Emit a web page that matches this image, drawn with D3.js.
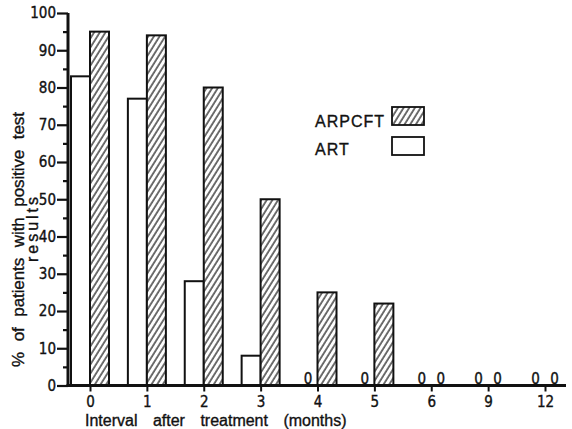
<!DOCTYPE html>
<html>
<head>
<meta charset="utf-8">
<script src="https://cdn.jsdelivr.net/npm/d3@7"></script>
<style>
  html, body { margin: 0; padding: 0; background: #fff; }
  svg { display: block; }
  text { fill: #111; stroke: #111; stroke-width: 0.35px; }
</style>
</head>
<body>
<svg id="chart" width="572" height="429"></svg>
<script>
// Months after treatment and the share of patients with a positive test result
const categories = ["0", "1", "2", "3", "4", "5", "6", "9", "12"];
const artValues = [83, 77, 28, 8, 0, 0, 0, 0, 0];
const arpcftValues = [95, 94, 80, 50, 25, 22, 0, 0, 0];
const yTicks = [0, 10, 20, 30, 40, 50, 60, 70, 80, 90, 100];
const yMinorTicks = [5, 15, 25, 35, 45, 55, 65, 75, 85, 95];
const seriesNames = ["ARPCFT", "ART"];

const svg = d3.select("#chart");
const ink = "#111";
const tickFont = "'Liberation Sans Narrow', 'DejaVu Sans Condensed', 'Liberation Sans', sans-serif";
const titleFont = "'Liberation Sans', 'DejaVu Sans', sans-serif";

const x = d3.scalePoint().domain(categories).range([90, 545]);
const y = d3.scaleLinear().domain([0, 100]).range([385.5, 13]);
const barW = 19;

// diagonal hatching for ARPCFT
const defs = svg.append("defs");
const pat = defs.append("pattern")
  .attr("id", "hatch")
  .attr("patternUnits", "userSpaceOnUse")
  .attr("width", 4.8).attr("height", 10)
  .attr("patternTransform", "rotate(32)");
pat.append("rect").attr("width", 4.8).attr("height", 10).attr("fill", "#fff");
pat.append("line")
  .attr("x1", 1).attr("y1", -1).attr("x2", 1).attr("y2", 11)
  .attr("stroke", ink).attr("stroke-width", 1.2);

// bars
const g = svg.append("g");
g.selectAll("rect.art")
  .data(categories.map((c, i) => ({ c, v: artValues[i] })).filter(d => d.v > 0))
  .join("rect")
  .attr("class", "art")
  .attr("x", d => x(d.c) - barW)
  .attr("y", d => y(d.v))
  .attr("width", barW)
  .attr("height", d => y(0) - y(d.v))
  .attr("fill", "#fff")
  .attr("stroke", ink).attr("stroke-width", 2);

g.selectAll("rect.arpcft")
  .data(categories.map((c, i) => ({ c, v: arpcftValues[i] })).filter(d => d.v > 0))
  .join("rect")
  .attr("class", "arpcft")
  .attr("x", d => x(d.c))
  .attr("y", d => y(d.v))
  .attr("width", barW)
  .attr("height", d => y(0) - y(d.v))
  .attr("fill", "url(#hatch)")
  .attr("stroke", ink).attr("stroke-width", 2);

// zero results are marked with a "0" on the baseline
const zeros = [];
categories.forEach((c, i) => {
  if (artValues[i] === 0) zeros.push({ c, off: -barW / 2 });
  if (arpcftValues[i] === 0) zeros.push({ c, off: barW / 2 });
});
g.selectAll("text.zero")
  .data(zeros)
  .join("text")
  .attr("class", "zero")
  .attr("x", d => x(d.c) + d.off)
  .attr("y", y(0) - 2)
  .attr("text-anchor", "middle")
  .style("font-family", tickFont)
  .style("font-size", "15px")
  .text("0");

// y axis
const yAxis = svg.append("g").attr("transform", "translate(68,0)")
  .call(d3.axisLeft(y).tickValues(yTicks).tickSize(11).tickSizeOuter(0).tickPadding(1));
const yMinor = svg.append("g").attr("transform", "translate(68,0)")
  .call(d3.axisLeft(y).tickValues(yMinorTicks).tickSize(5).tickSizeOuter(0).tickFormat(""));
[yAxis, yMinor].forEach(a => {
  a.select(".domain").remove();
  a.selectAll(".tick line").attr("stroke", ink).attr("stroke-width", 2.2);
});
yAxis.selectAll(".tick text")
  .style("font-family", tickFont).style("font-size", "15px").attr("fill", ink);

// x axis
const xAxis = svg.append("g").attr("transform", `translate(0,${y(0)})`)
  .call(d3.axisBottom(x).tickSize(6).tickSizeOuter(0).tickPadding(5));
xAxis.select(".domain").remove();
xAxis.selectAll(".tick line").attr("stroke", ink).attr("stroke-width", 2);
xAxis.selectAll(".tick text")
  .style("font-family", tickFont).style("font-size", "15px").attr("fill", ink);

// axis lines
svg.append("line")
  .attr("x1", 68).attr("x2", 68).attr("y1", y(100)).attr("y2", y(0) + 1.5)
  .attr("stroke", ink).attr("stroke-width", 3);
svg.append("line")
  .attr("x1", 66.5).attr("x2", 566).attr("y1", y(0)).attr("y2", y(0))
  .attr("stroke", ink).attr("stroke-width", 3);

// axis titles
svg.append("text")
  .attr("x", 85).attr("y", 426)
  .style("font-family", titleFont).style("font-size", "16px")
  .style("word-spacing", "11px")
  .text("Interval after treatment (months)");

svg.append("text")
  .attr("transform", "translate(24,367) rotate(-90)")
  .attr("textLength", 255).attr("lengthAdjust", "spacing")
  .style("font-family", titleFont).style("font-size", "17px")
  .style("word-spacing", "6px")
  .text("% of patients with positive test");
svg.append("text")
  .attr("transform", "translate(38,262) rotate(-90)")
  .attr("textLength", 65).attr("lengthAdjust", "spacing")
  .style("font-family", titleFont).style("font-size", "16px")
  .text("results");

// legend
const legend = svg.append("g");
const legendRows = [
  { name: seriesNames[0], fill: "url(#hatch)", top: 107, base: 127 },
  { name: seriesNames[1], fill: "#fff", top: 137, base: 155 }
];
legendRows.forEach(r => {
  legend.append("text")
    .attr("x", 315).attr("y", r.base)
    .style("font-family", titleFont).style("font-size", "16px")
    .style("letter-spacing", "1px")
    .text(r.name);
  legend.append("rect")
    .attr("x", 392).attr("y", r.top).attr("width", 32).attr("height", 18)
    .attr("fill", r.fill).attr("stroke", ink).attr("stroke-width", 1.8);
});
</script>
</body>
</html>
